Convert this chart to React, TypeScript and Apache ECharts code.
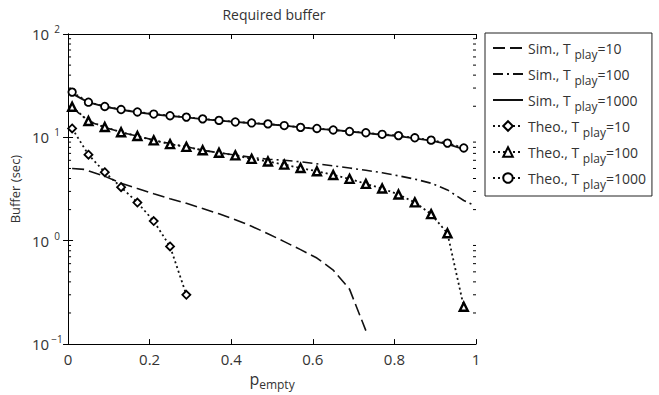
import React, { useEffect, useRef } from "react";
import * as echarts from "echarts";

const xTheo = [0.01, 0.05, 0.09, 0.13, 0.17, 0.21, 0.25, 0.29, 0.33, 0.37, 0.41, 0.45, 0.49, 0.53, 0.57, 0.61, 0.65, 0.69, 0.73, 0.77, 0.81, 0.85, 0.89, 0.93, 0.97];
const theo10 = [12.2, 6.8, 4.6, 3.3, 2.34, 1.55, 0.88, 0.3];
const theo100 = [19.8, 14.4, 12.6, 11.2, 10.3, 9.35, 8.6, 8.1, 7.5, 7.1, 6.7, 6.2, 5.85, 5.45, 5.05, 4.7, 4.33, 3.97, 3.55, 3.2, 2.8, 2.35, 1.81, 1.18, 0.23];
const theo1000 = [27.4, 21.9, 19.9, 18.6, 17.6, 16.8, 16.2, 15.7, 15.1, 14.6, 14.1, 13.8, 13.5, 13.0, 12.5, 12.2, 11.8, 11.4, 11.1, 10.7, 10.4, 9.9, 9.4, 8.8, 7.9];

const xSim10 = [0.01, 0.04, 0.09, 0.13, 0.17, 0.21, 0.25, 0.29, 0.33, 0.37, 0.41, 0.45, 0.49, 0.53, 0.57, 0.61, 0.65, 0.69, 0.73];
const sim10 = [5.0, 4.9, 4.2, 3.6, 3.2, 2.85, 2.55, 2.3, 2.05, 1.82, 1.6, 1.38, 1.17, 0.98, 0.82, 0.68, 0.52, 0.34, 0.135];
const xSim100 = [0.01, 0.05, 0.09, 0.13, 0.17, 0.21, 0.25, 0.29, 0.33, 0.37, 0.41, 0.45, 0.49, 0.53, 0.57, 0.61, 0.65, 0.69, 0.73, 0.77, 0.81, 0.85, 0.89, 0.93, 0.97, 0.99];
const sim100 = [19.5, 14.3, 12.5, 11.2, 10.3, 9.4, 8.7, 8.1, 7.5, 7.1, 6.75, 6.4, 6.15, 6.0, 5.8, 5.55, 5.3, 5.05, 4.8, 4.55, 4.25, 3.95, 3.6, 3.1, 2.45, 2.25];
const sim1000 = [26.5, 21.8, 19.8, 18.5, 17.5, 16.7, 16.1, 15.6, 15.0, 14.5, 14.1, 13.7, 13.4, 13.0, 12.5, 12.1, 11.8, 11.4, 11.0, 10.6, 10.3, 9.8, 9.3, 8.6, 7.7];

const xTicks = [0, 0.2, 0.4, 0.6, 0.8, 1];
const minorYTicks = [0.2, 0.3, 0.4, 0.5, 0.6, 0.7, 0.8, 0.9, 2, 3, 4, 5, 6, 7, 8, 9, 20, 30, 40, 50, 60, 70, 80, 90];

const seriesNames = [
  "Sim., T_play=10",
  "Sim., T_play=100",
  "Sim., T_play=1000",
  "Theo., T_play=10",
  "Theo., T_play=100",
  "Theo., T_play=1000",
];

const FONT = "Open Sans";
const TXT = "#333";

function pairs(xs: number[], ys: number[]) {
  return ys.map((y, i) => [xs[i], y]);
}

export default function App() {
  const ref = useRef<HTMLDivElement>(null);
  useEffect(() => {
    document.body.style.margin = "0";
    if (!ref.current) return;
    const chart = echarts.init(ref.current, null, { renderer: "svg" });
    const markerStyle = { color: "#fff", borderColor: "#000", borderWidth: 1.8 };
    const option: any = {
      animation: false,
      backgroundColor: "#fff",
      textStyle: { fontFamily: FONT },
      title: {
        text: "Required buffer",
        left: 269,
        textAlign: "center",
        top: 0,
        textStyle: { fontSize: 14, fontWeight: "normal", color: TXT, fontFamily: FONT, lineHeight: 18 },
      },
      grid: { left: 62, right: 183, top: 34, bottom: 48, containLabel: false },
      legend: {
        data: seriesNames.map((n, i) =>
          i < 3 ? { name: n, itemStyle: { opacity: 0, borderWidth: 0 } } : { name: n }
        ),
        orient: "vertical",
        left: 485,
        top: 33,
        padding: [8, 6, 6, 7],
        itemGap: 7,
        itemWidth: 30,
        itemHeight: 12,
        borderColor: "#222",
        borderWidth: 1,
        selectedMode: false,
        formatter: (name: string) => {
          const p = name.split("T_play");
          return `{a|${p[0]}T }{s|play}{a|${p[1]}}`;
        },
        textStyle: {
          fontFamily: FONT,
          rich: {
            a: { fontSize: 14, color: TXT, lineHeight: 24, fontFamily: FONT },
            s: { fontSize: 12, color: TXT, lineHeight: 12, verticalAlign: "bottom", fontFamily: FONT },
          },
        },
      },
      xAxis: [
        {
          type: "value",
          min: 0,
          max: 1,
          interval: 0.2,
          position: "bottom",
          name: "{p|p}{s|empty}",
          nameLocation: "middle",
          nameGap: 21,
          nameTextStyle: {
            rich: {
              p: { fontSize: 16, color: TXT, lineHeight: 22, fontFamily: FONT },
              s: { fontSize: 12, color: TXT, lineHeight: 12, verticalAlign: "bottom", fontFamily: FONT },
            },
          },
          axisLine: { show: true, lineStyle: { color: "#000", width: 1 } },
          axisTick: { show: true, inside: true, length: 5, lineStyle: { color: "#000" } },
          axisLabel: {
            margin: 7,
            fontSize: 15,
            color: TXT,
            fontFamily: FONT,
            formatter: (v: number) => {
              const t = xTicks.find((k) => Math.abs(k - v) < 1e-9);
              return t === undefined ? "" : String(t);
            },
          },
          splitLine: { show: false },
        },
        {
          type: "value",
          min: 0,
          max: 1,
          interval: 0.2,
          position: "top",
          axisLine: { show: true, lineStyle: { color: "#000", width: 1 } },
          axisTick: { show: true, inside: true, length: 5, lineStyle: { color: "#000" } },
          axisLabel: { show: false },
          splitLine: { show: false },
        },
      ],
      yAxis: [
        {
          type: "log",
          logBase: 10,
          min: 0.1,
          max: 100,
          position: "left",
          name: "Buffer (sec)",
          nameLocation: "middle",
          nameGap: 42,
          nameTextStyle: { fontSize: 13, color: TXT, fontFamily: FONT },
          axisLine: { show: true, lineStyle: { color: "#000", width: 1 } },
          axisTick: { show: true, inside: true, length: 5, lineStyle: { color: "#000" } },
          axisLabel: {
            margin: 5,
            color: TXT,
            formatter: (v: number) => {
              const e = Math.round(Math.log10(v));
              const s = e < 0 ? "\u2212" + Math.abs(e) : String(e);
              return `{b|10}{s|${s}}`;
            },
            rich: {
              b: { fontSize: 15, lineHeight: 20, color: TXT, fontFamily: FONT },
              s: { fontSize: 10, lineHeight: 10, verticalAlign: "top", width: 12, align: "left", padding: [0, 0, 0, 2], color: TXT, fontFamily: FONT },
            },
          },
          splitLine: { show: false },
        },
        {
          type: "log",
          logBase: 10,
          min: 0.1,
          max: 100,
          position: "right",
          axisLine: { show: true, lineStyle: { color: "#000", width: 1 } },
          axisTick: { show: true, inside: true, length: 5, lineStyle: { color: "#000" } },
          axisLabel: { show: false },
          splitLine: { show: false },
        },
      ],
      series: [
        {
          type: "custom",
          name: "minor",
          silent: true,
          xAxisIndex: 0,
          yAxisIndex: 0,
          data: minorYTicks.map((v) => [0, v]),
          renderItem: (params: any, api: any) => {
            const cs = params.coordSys;
            const y = api.coord([0, api.value(1)])[1];
            return {
              type: "group",
              children: [
                { type: "line", shape: { x1: cs.x, y1: y, x2: cs.x + 3, y2: y }, style: { stroke: "#000", lineWidth: 1 } },
                { type: "line", shape: { x1: cs.x + cs.width, y1: y, x2: cs.x + cs.width - 3, y2: y }, style: { stroke: "#000", lineWidth: 1 } },
              ],
            };
          },
        },
        {
          type: "line",
          name: seriesNames[0],
          data: pairs(xSim10, sim10),
          symbol: "none",
          lineStyle: { color: "#111", width: 1.6, type: [12, 5] },
          itemStyle: { color: "#111" },
        },
        {
          type: "line",
          name: seriesNames[1],
          data: pairs(xSim100, sim100),
          symbol: "none",
          lineStyle: { color: "#111", width: 1.6, type: [10, 4, 2, 4] },
          itemStyle: { color: "#111" },
        },
        {
          type: "line",
          name: seriesNames[2],
          data: pairs(xTheo, sim1000),
          symbol: "none",
          lineStyle: { color: "#111", width: 1.8 },
          itemStyle: { color: "#111" },
        },
        {
          type: "line",
          name: seriesNames[3],
          data: pairs(xTheo, theo10),
          symbol: "diamond",
          symbolSize: 8,
          showAllSymbol: true,
          lineStyle: { color: "#111", width: 1.8, type: [2, 3] },
          itemStyle: markerStyle,
          z: 4,
        },
        {
          type: "line",
          name: seriesNames[4],
          data: pairs(xTheo, theo100),
          symbol: "triangle",
          symbolSize: 8,
          showAllSymbol: true,
          lineStyle: { color: "#111", width: 1.8, type: [2, 3] },
          itemStyle: { color: "#fff", borderColor: "#000", borderWidth: 2.4 },
          z: 4,
        },
        {
          type: "line",
          name: seriesNames[5],
          data: pairs(xTheo, theo1000),
          symbol: "circle",
          symbolSize: 7.5,
          showAllSymbol: true,
          lineStyle: { color: "#111", width: 1.8, type: [2, 3] },
          itemStyle: markerStyle,
          z: 4,
        },
      ],
    };
    chart.setOption(option);
    return () => chart.dispose();
  }, []);
  return <div ref={ref} style={{ width: 659, height: 395 }} />;
}
